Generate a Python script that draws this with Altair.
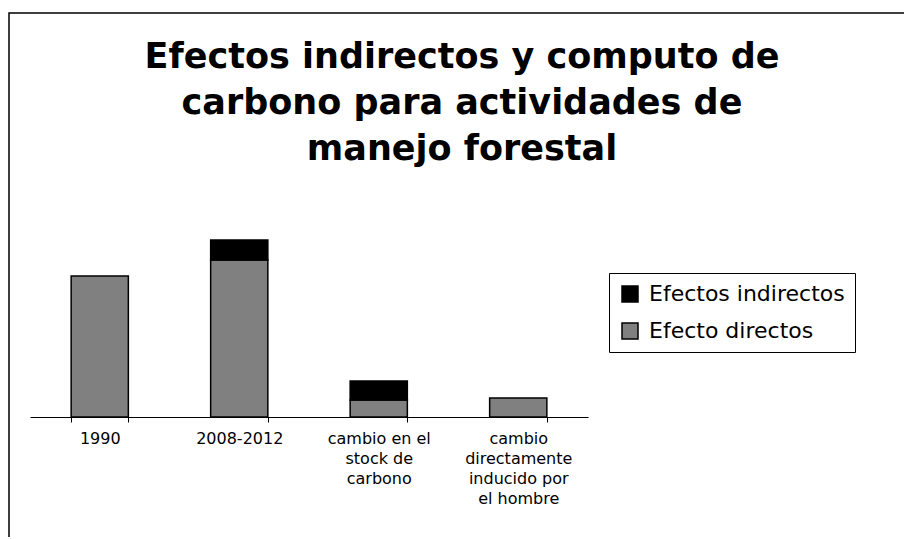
import altair as alt
import pandas as pd

categories = ["1990", "2008-2012", "cambio en el stock de carbono",
              "cambio directamente inducido por el hombre"]
label_lines = [["1990"], ["2008-2012"], ["cambio en el", "stock de", "carbono"],
               ["cambio", "directamente", "inducido por", "el hombre"]]
series = ["Efectos indirectos", "Efecto directos"]
directos = [141, 157, 17, 19]
indirectos = [0, 20, 19, 0]
title_lines = ["Efectos indirectos y computo de", "carbono para actividades de", "manejo forestal"]

rows = []
for c, d, i in zip(categories, directos, indirectos):
    rows.append({"cat": c, "serie": "Efecto directos", "valor": d, "orden": 0})
    if i > 0:
        rows.append({"cat": c, "serie": "Efectos indirectos", "valor": i, "orden": 1})
df = pd.DataFrame(rows)

expr = "datum.label"
for c, lines in reversed(list(zip(categories, label_lines))):
    arr = "[" + ",".join("'" + l + "'" for l in lines) + "]"
    expr = f"datum.label == '{c}' ? {arr} : ({expr})"

FONT = "DejaVu Sans"

bars = alt.Chart(df).mark_bar(stroke="black", strokeWidth=1.5).encode(
    x=alt.X("cat:N", sort=categories, title=None,
            scale=alt.Scale(paddingInner=0.59, paddingOuter=0.295),
            axis=alt.Axis(labelExpr=expr, labelAngle=0, tickBand="extent",
                          domainColor="black", tickColor="black", tickSize=5,
                          labelFont=FONT, labelFontSize=16, labelColor="black",
                          labelLineHeight=20, labelPadding=8, labelLimit=200)),
    y=alt.Y("valor:Q", stack="zero", axis=None, scale=alt.Scale(domain=[0, 200], nice=False)),
    color=alt.Color("serie:N", scale=alt.Scale(domain=series, range=["#000000", "#808080"]),
                    legend=alt.Legend(title=None, orient="none", legendX=579, legendY=56,
                                      symbolType="square", symbolSize=256,
                                      symbolStrokeColor="black", symbolStrokeWidth=1.5,
                                      labelFont=FONT, labelFontSize=22, labelColor="black",
                                      labelLimit=400,
                                      rowPadding=15, padding=10, strokeColor="black",
                                      labelOffset=8)),
    order=alt.Order("orden:Q"),
)

frame = alt.Chart(alt.Data(values=[{}])).mark_rect(fill=None, stroke="black", strokeWidth=1.5).encode(
    x=alt.value(-21), x2=alt.value(1000), y=alt.value(-204), y2=alt.value(600)
)

chart = alt.layer(frame, bars).properties(
    width=558, height=200,
    padding={"left": 22, "top": 209, "right": 316, "bottom": 120},
    autosize=alt.AutoSizeParams(type="none"),
    title=alt.TitleParams(text=title_lines, font=FONT, fontSize=35, fontWeight="bold",
                          lineHeight=46, anchor="middle", frame="group", dx=153,
                          offset=-155, color="black"),
).configure_view(stroke=None)

chart.save("out.html", embed_options={"renderer": "svg", "actions": False})
